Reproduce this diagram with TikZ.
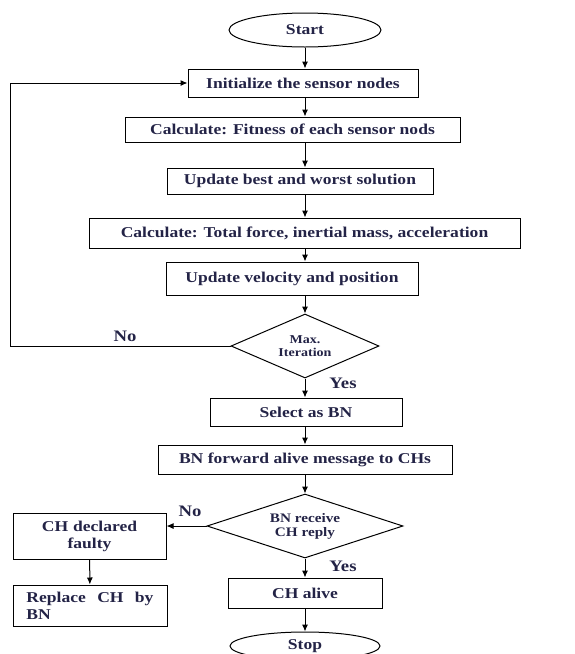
\documentclass[tikz,border=0pt]{standalone}
\usepackage{fontspec}
\setmainfont{Liberation Serif}[FakeStretch=1.17]
\usetikzlibrary{shapes.geometric,arrows.meta}
\definecolor{ink}{RGB}{35,35,70}
\hyphenpenalty=10000

\begin{document}
\begin{tikzpicture}[x=1pt,y=-1pt]
                        \tikzstyle{box}=[draw,line width=1pt,inner sep=0pt,text=ink,font=\fontsize{15}{17}\selectfont\bfseries]
                        \tikzstyle{term}=[box,ellipse]
                        \tikzstyle{test}=[box,diamond,aspect=2.5,align=center]
                        \tikzstyle{arr}=[line width=1pt,-{Latex[length=7pt,width=6pt]}]
                        \tikzstyle{lbl}=[text=ink,font=\fontsize{16}{18}\selectfont\bfseries]
                        \useasboundingbox (0,0) rectangle (575,654);
                        \node[term,minimum width=152,minimum height=34] (start) at (305,30) {Start};
                        \node[box,minimum width=230,minimum height=28] (init) at (303,83) {Initialize the sensor nodes};
                        \node[box,minimum width=335,minimum height=25] (fit) at (292.5,129.5) {Calculate: Fitness of each sensor nods};
                        \node[box,minimum width=266,minimum height=26] (best) at (300,181) {Update best and worst solution};
                        \node[box,minimum width=431,minimum height=30] (force) at (304.5,233) {Calculate: Total force, inertial mass, acceleration};
                        \node[box,minimum width=252,minimum height=33] (vel) at (292,278.5) {Update velocity and position};
                        \node[test,minimum width=148,minimum height=64,font=\fontsize{12}{13}\selectfont\bfseries] (maxit) at (305,346) {Max.\\Iteration};
                        \node[box,minimum width=192,minimum height=28] (select) at (306,412) {Select as BN};
                        \node[box,minimum width=294,minimum height=29] (fwd) at (305,459.5) {BN forward alive message to CHs};
                        \node[test,minimum width=196,minimum height=64,font=\fontsize{13}{14}\selectfont\bfseries] (reply) at (305,526) {BN receive\\CH reply};
                        \node[box,minimum width=153,minimum height=46,text width=127,align=center] (faulty) at (89.5,536) {CH declared faulty};
                        \node[box,minimum width=154,minimum height=41,text width=127,align=justify] (replace) at (90,605.5) {Replace CH by BN};
                        \node[box,minimum width=154,minimum height=30] (alive) at (305,593) {CH alive};
                        \node[term,minimum width=150,minimum height=28] (stop) at (305,646) {Stop};
                        \coordinate (back) at (10,346);
                        \node[lbl] (no1) at (125,336) {No};
                        \node[lbl] (yes1) at (343,383) {Yes};
                        \node[lbl] (no2) at (190,511) {No};
                        \node[lbl] (yes2) at (343,566) {Yes};
                        \draw[arr] (start.south) -- (start.south |- init.north);
                        \draw[arr] (init.south -| start) -- (start |- fit.north);
                        \draw[arr] (fit.south -| start) -- (start |- best.north);
                        \draw[arr] (best.south -| start) -- (start |- force.north);
                        \draw[arr] (force.south -| start) -- (start |- vel.north);
                        \draw[arr] (vel.south -| start) -- (maxit.north);
                        \draw[arr] (maxit.south) -- (maxit.south |- select.north);
                        \draw[arr] (select.south -| start) -- (fwd.north);
                        \draw[arr] (fwd.south) -- (reply.north);
                        \draw[arr] (reply.south) -- (alive.north);
                        \draw[arr] (alive.south) -- (stop.north);
                        \draw[arr] (maxit.west) -- (back) |- (init.west);
                        \draw[arr] (reply.west) -- (reply.west -| faulty.east);
                        \draw[arr] (faulty) -- (replace);
                    \end{tikzpicture}
\end{document}
